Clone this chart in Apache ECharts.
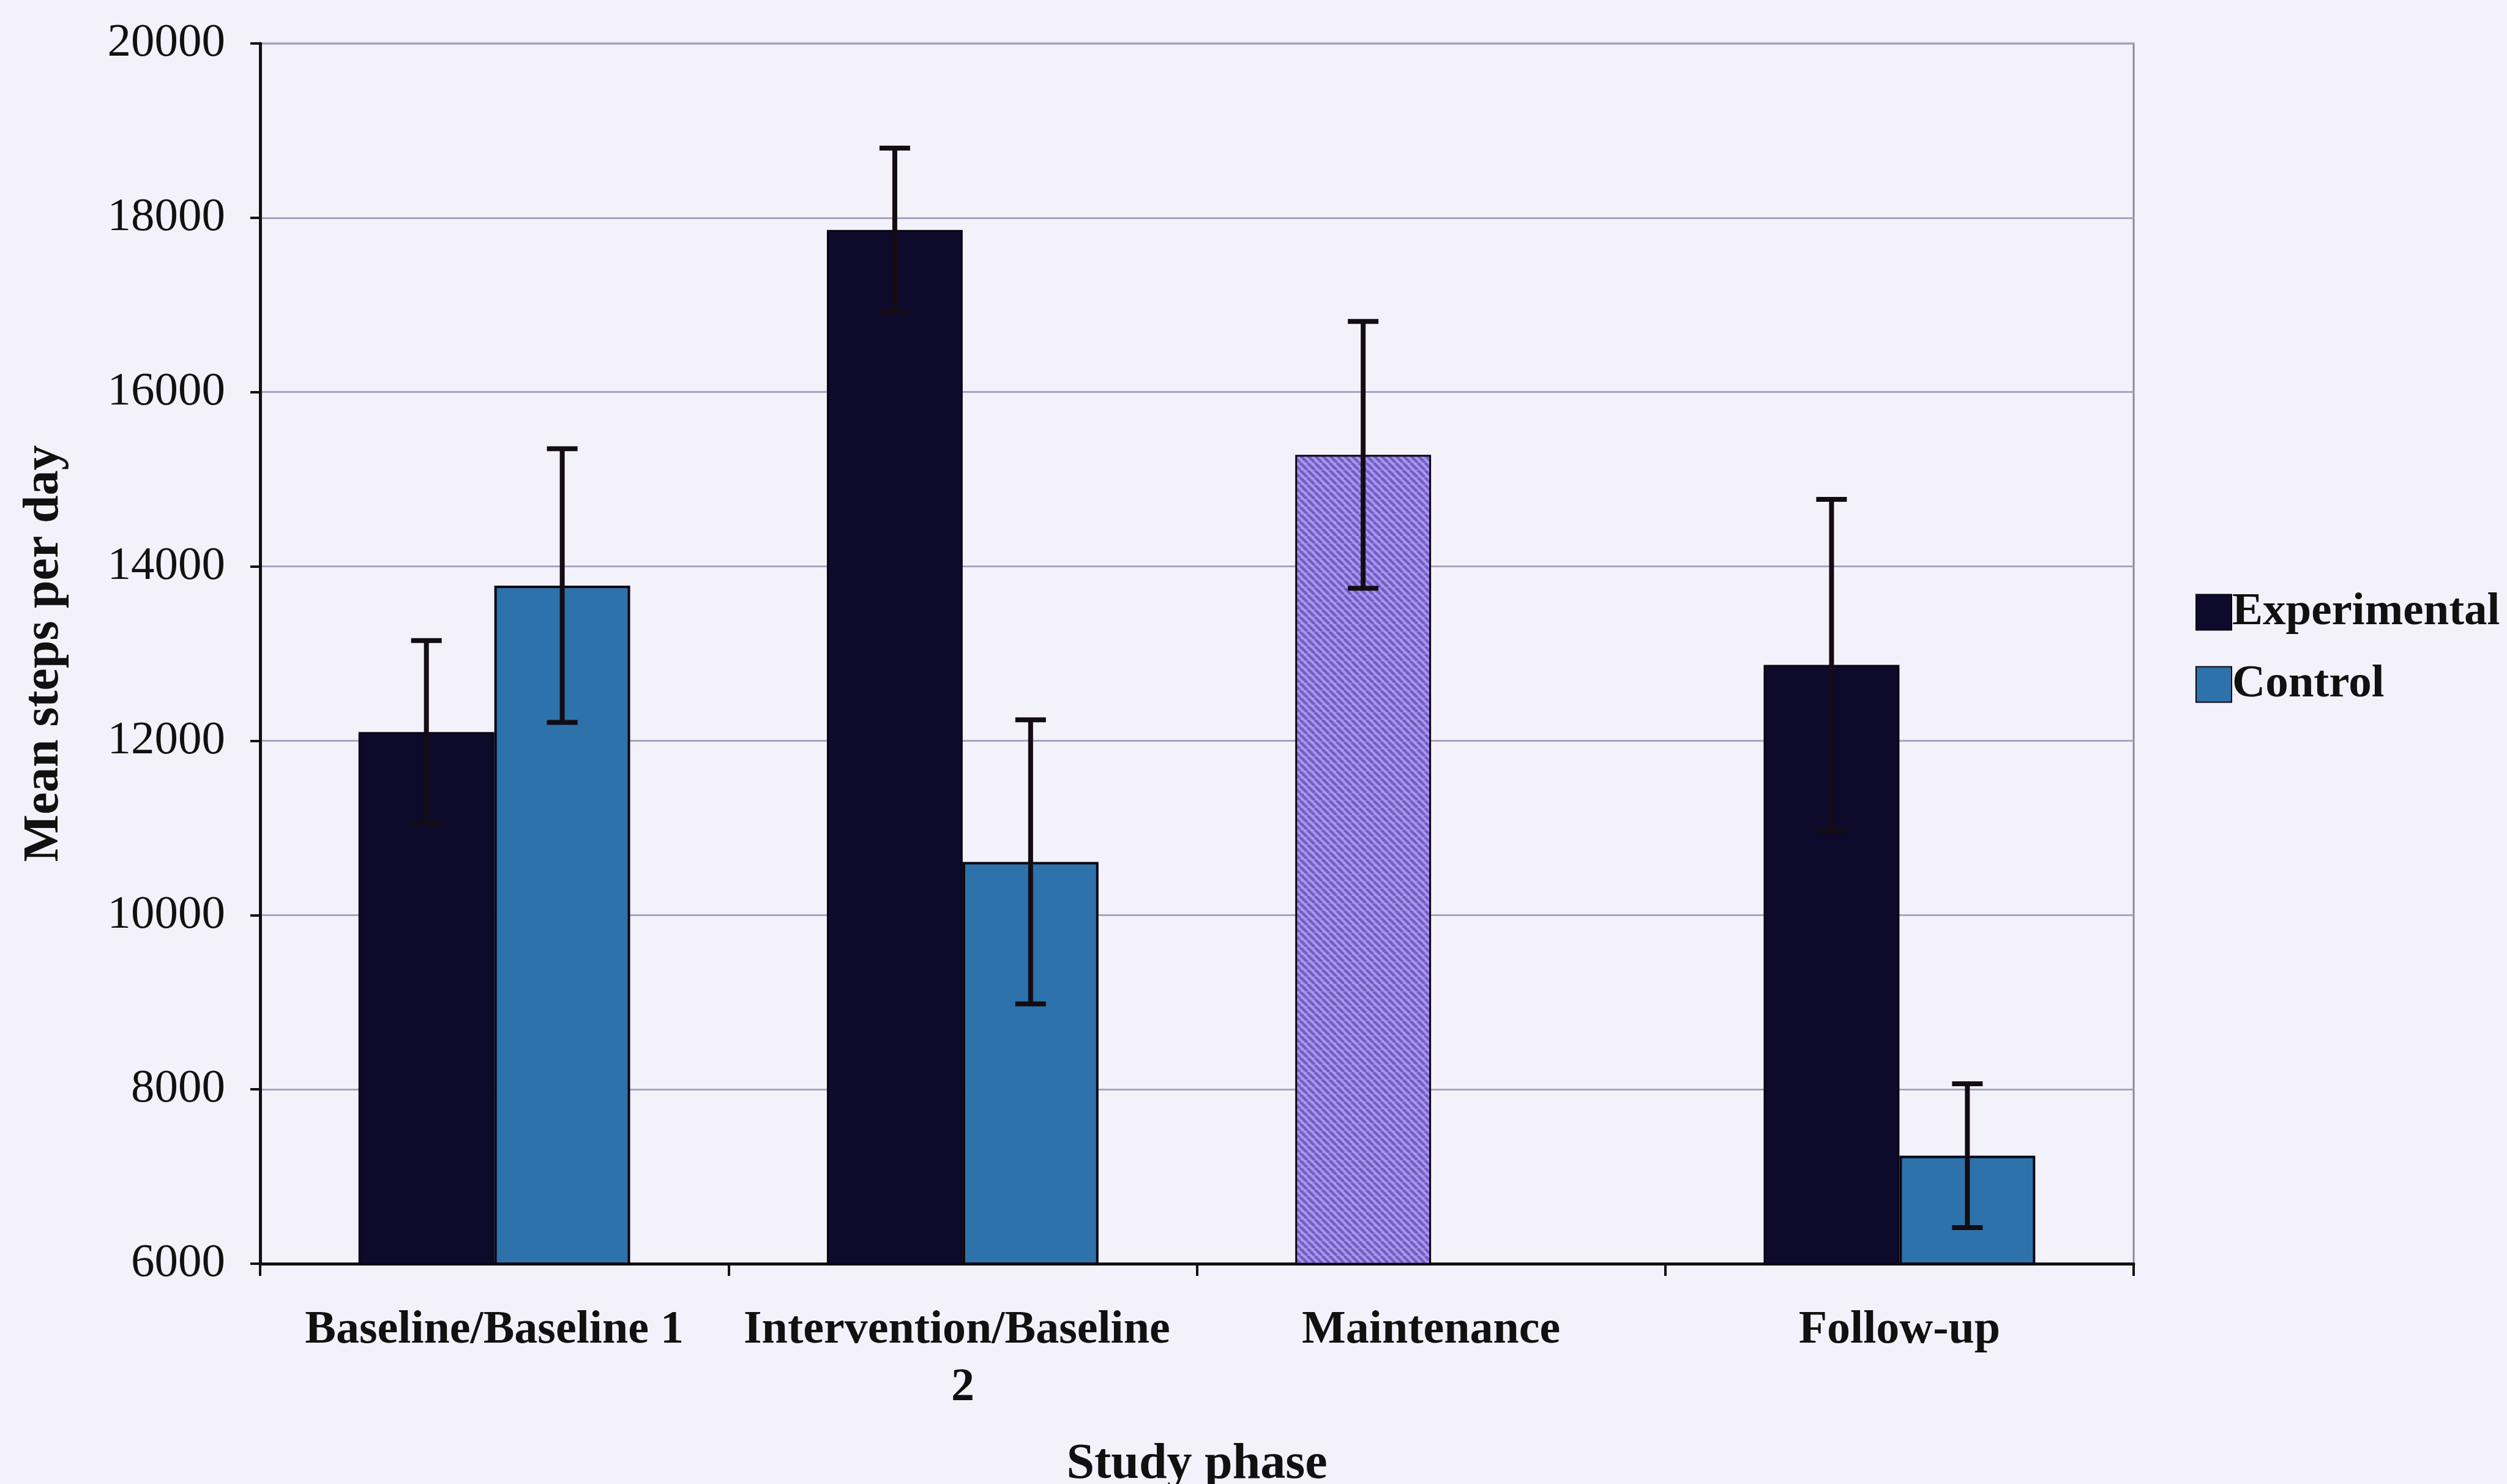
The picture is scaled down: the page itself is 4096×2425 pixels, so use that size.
<!DOCTYPE html>
<html>
<head>
<meta charset="utf-8">
<script src="https://cdn.jsdelivr.net/npm/echarts@6/dist/echarts.min.js"></script>
<style>
  html, body { margin: 0; padding: 0; background: #f3f2fa; }
  #chart { width: 4096px; height: 2425px; }
</style>
</head>
<body>
<div id="chart"></div>
<script>
// ---- data ----
const categories = ['Baseline/Baseline 1', 'Intervention/Baseline 2', 'Maintenance', 'Follow-up'];
const seriesNames = ['Experimental', 'Control'];
const expMeans = [12100, 17860, 15280, 12870];
const expErr   = [1050, 940, 1530, 1900];
const ctrlMeans = [13780, 10610, null, 7240];
const ctrlErr   = [1570, 1630, null, 825];
const yTicks = { min: 6000, max: 20000, interval: 2000 };

// ---- styling ----
const FONT = '"Liberation Serif", "Times New Roman", serif';
const BAR_FRAC = 0.29;
const expColor = '#0d0a2c';
const ctrlColor = '#2d72aa';

// hatched lavender pattern for the Maintenance bar
function makeHatch() {
  const c = document.createElement('canvas');
  c.width = 12; c.height = 12;
  const g = c.getContext('2d');
  g.fillStyle = '#a898ea';
  g.fillRect(0, 0, 12, 12);
  g.strokeStyle = '#725ec6';
  g.lineWidth = 4.5;
  for (let k = -12; k <= 24; k += 12) {
    g.beginPath();
    g.moveTo(k, 0);
    g.lineTo(k + 12, 12);
    g.stroke();
  }
  return c;
}
const hatch = makeHatch();

const expData = expMeans.map((v, i) => i === 2
  ? { value: v, itemStyle: { color: { image: hatch, repeat: 'repeat' } } }
  : v);
const ctrlData = ctrlMeans.map(v => v === null ? '-' : v);

function errData(means, errs) {
  const out = [];
  means.forEach((m, i) => { if (m !== null && errs[i] !== null) out.push([i, m, errs[i]]); });
  return out;
}

function errRenderer(sign) {
  return function (params, api) {
    const x = api.value(0), m = api.value(1), e = api.value(2);
    const hi = api.coord([x, m + e]);
    const lo = api.coord([x, m - e]);
    const band = api.size([1, 0])[0];
    const cx = hi[0] + sign * band * BAR_FRAC / 2;
    const half = 25;
    const st = { stroke: '#140c14', lineWidth: 8 };
    return {
      type: 'group',
      children: [
        { type: 'line', shape: { x1: cx, y1: hi[1], x2: cx, y2: lo[1] }, style: st },
        { type: 'line', shape: { x1: cx - half, y1: hi[1], x2: cx + half, y2: hi[1] }, style: st },
        { type: 'line', shape: { x1: cx - half, y1: lo[1], x2: cx + half, y2: lo[1] }, style: st }
      ]
    };
  };
}

const chart = echarts.init(document.getElementById('chart'), null, { renderer: 'canvas' });
chart.setOption({
  backgroundColor: '#f3f2fa',
  animation: false,
  textStyle: { fontFamily: FONT, color: '#111' },
  grid: {
    left: 425, right: 610, top: 71, bottom: 360,
    outerBoundsMode: 'none', containLabel: false,
    show: true, borderColor: '#8c8898', borderWidth: 3, backgroundColor: 'transparent'
  },
  legend: {
    data: seriesNames,
    orient: 'vertical',
    left: 3582, top: 958,
    itemWidth: 58, itemHeight: 58, itemGap: 43,
    icon: 'rect',
    textStyle: { fontFamily: FONT, fontSize: 75, fontWeight: 'bold', color: '#111', padding: [0, 0, 0, -4] }
  },
  xAxis: {
    type: 'category',
    data: categories,
    name: 'Study phase',
    nameLocation: 'middle',
    nameGap: 288,
    nameTextStyle: { fontFamily: FONT, fontSize: 82, fontWeight: 'bold', color: '#111', lineHeight: 82 },
    axisLine: { show: true, lineStyle: { color: '#111', width: 5 } },
    axisTick: { show: true, length: 20, lineStyle: { color: '#111', width: 4 } },
    axisLabel: {
      fontFamily: FONT, fontSize: 76, fontWeight: 'bold', color: '#111',
      margin: 62, lineHeight: 94, width: 720, overflow: 'break', interval: 0
    },
    splitLine: { show: false }
  },
  yAxis: {
    type: 'value',
    min: yTicks.min, max: yTicks.max, interval: yTicks.interval,
    name: 'Mean steps per day',
    nameLocation: 'middle',
    nameRotate: 90,
    nameGap: 311,
    nameTextStyle: { fontFamily: FONT, fontSize: 82, fontWeight: 'bold', color: '#111', lineHeight: 82 },
    axisLine: { show: true, lineStyle: { color: '#111', width: 5 } },
    axisTick: { show: true, length: 16, lineStyle: { color: '#111', width: 4 } },
    axisLabel: {
      fontFamily: FONT, fontSize: 77, color: '#111', margin: 57,
      formatter: v => String(v)
    },
    splitLine: { show: true, lineStyle: { color: '#a9a2c2', width: 3 } }
  },
  series: [
    {
      name: 'Experimental', type: 'bar', data: expData,
      barWidth: (BAR_FRAC * 100) + '%', barGap: '0%',
      itemStyle: { color: expColor, borderColor: '#0a0612', borderWidth: 3 },
      z: 2
    },
    {
      name: 'Control', type: 'bar', data: ctrlData,
      barWidth: (BAR_FRAC * 100) + '%', barGap: '0%',
      itemStyle: { color: ctrlColor, borderColor: '#0a0612', borderWidth: 4 },
      z: 2
    },
    {
      name: 'Experimental error', type: 'custom',
      renderItem: errRenderer(-1),
      data: errData(expMeans, expErr),
      encode: { x: 0, y: [1] }, z: 5, silent: true
    },
    {
      name: 'Control error', type: 'custom',
      renderItem: errRenderer(1),
      data: errData(ctrlMeans, ctrlErr),
      encode: { x: 0, y: [1] }, z: 5, silent: true
    }
  ]
});
</script>
</body>
</html>
